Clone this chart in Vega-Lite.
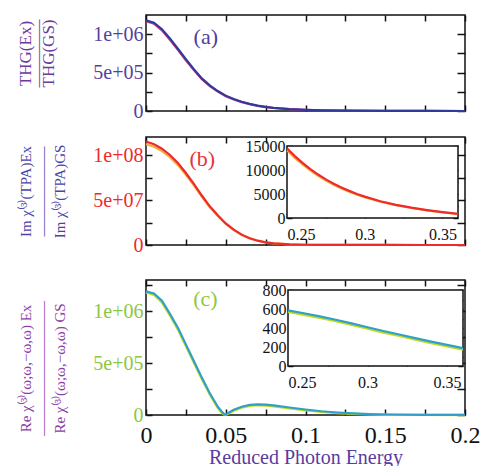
{
  "$schema": "https://vega.github.io/schema/vega-lite/v6.json",
  "background": "white",
  "padding": {"left": 16, "top": 13, "right": 5, "bottom": 0},
  "config": {
    "font": "Liberation Serif",
    "view": {"stroke": "#111", "strokeWidth": 1.5},
    "axis": {"grid": false, "domain": false, "tickColor": "#111", "tickWidth": 1.5, "labelOverlap": false, "labelBound": false, "zindex": 1, "labelFontWeight": "normal", "titleFontWeight": "normal"}
  },
  "datasets": {
    "a": [
      {"x": 0, "v": 1180000, "s": "A"}, {"x": 0.005, "v": 1150000, "s": "A"}, {"x": 0.01, "v": 1065000, "s": "A"}, {"x": 0.015, "v": 945000, "s": "A"}, {"x": 0.02, "v": 810000, "s": "A"}, {"x": 0.025, "v": 675000, "s": "A"}, {"x": 0.03, "v": 545000, "s": "A"}, {"x": 0.035, "v": 425000, "s": "A"}, {"x": 0.04, "v": 335000, "s": "A"}, {"x": 0.045, "v": 260000, "s": "A"}, {"x": 0.05, "v": 200000, "s": "A"}, {"x": 0.055, "v": 155000, "s": "A"}, {"x": 0.06, "v": 120000, "s": "A"}, {"x": 0.065, "v": 92000, "s": "A"}, {"x": 0.07, "v": 70000, "s": "A"}, {"x": 0.075, "v": 53000, "s": "A"}, {"x": 0.08, "v": 41000, "s": "A"}, {"x": 0.09, "v": 25000, "s": "A"}, {"x": 0.1, "v": 15000, "s": "A"}, {"x": 0.11, "v": 9000, "s": "A"}, {"x": 0.125, "v": 4000, "s": "A"}, {"x": 0.15, "v": 1500, "s": "A"}, {"x": 0.175, "v": 500, "s": "A"}, {"x": 0.2, "v": 200, "s": "A"},
      {"x": 0, "v": 1170000, "s": "B"}, {"x": 0.005, "v": 1138000, "s": "B"}, {"x": 0.01, "v": 1050000, "s": "B"}, {"x": 0.015, "v": 928000, "s": "B"}, {"x": 0.02, "v": 795000, "s": "B"}, {"x": 0.025, "v": 660000, "s": "B"}, {"x": 0.03, "v": 532000, "s": "B"}, {"x": 0.035, "v": 413000, "s": "B"}, {"x": 0.04, "v": 325000, "s": "B"}, {"x": 0.045, "v": 252000, "s": "B"}, {"x": 0.05, "v": 193000, "s": "B"}, {"x": 0.055, "v": 149000, "s": "B"}, {"x": 0.06, "v": 115000, "s": "B"}, {"x": 0.065, "v": 88000, "s": "B"}, {"x": 0.07, "v": 67000, "s": "B"}, {"x": 0.075, "v": 51000, "s": "B"}, {"x": 0.08, "v": 39000, "s": "B"}, {"x": 0.09, "v": 24000, "s": "B"}, {"x": 0.1, "v": 14000, "s": "B"}, {"x": 0.11, "v": 8500, "s": "B"}, {"x": 0.125, "v": 3800, "s": "B"}, {"x": 0.15, "v": 1400, "s": "B"}, {"x": 0.175, "v": 500, "s": "B"}, {"x": 0.2, "v": 200, "s": "B"}
    ],
    "b": [
      {"x": 0, "v": 115000000, "s": "A"}, {"x": 0.005, "v": 112000000, "s": "A"}, {"x": 0.01, "v": 107000000, "s": "A"}, {"x": 0.015, "v": 100000000, "s": "A"}, {"x": 0.02, "v": 91000000, "s": "A"}, {"x": 0.025, "v": 80000000, "s": "A"}, {"x": 0.03, "v": 68000000, "s": "A"}, {"x": 0.035, "v": 55000000, "s": "A"}, {"x": 0.04, "v": 43000000, "s": "A"}, {"x": 0.045, "v": 33000000, "s": "A"}, {"x": 0.05, "v": 24000000, "s": "A"}, {"x": 0.055, "v": 17000000, "s": "A"}, {"x": 0.06, "v": 11500000, "s": "A"}, {"x": 0.065, "v": 7500000, "s": "A"}, {"x": 0.07, "v": 4800000, "s": "A"}, {"x": 0.075, "v": 3000000, "s": "A"}, {"x": 0.08, "v": 1800000, "s": "A"}, {"x": 0.09, "v": 700000, "s": "A"}, {"x": 0.1, "v": 300000, "s": "A"}, {"x": 0.11, "v": 150000, "s": "A"}, {"x": 0.125, "v": 70000, "s": "A"}, {"x": 0.15, "v": 30000, "s": "A"}, {"x": 0.175, "v": 15000, "s": "A"}, {"x": 0.2, "v": 10000, "s": "A"},
      {"x": 0, "v": 112100000, "s": "B"}, {"x": 0.005, "v": 109200000, "s": "B"}, {"x": 0.01, "v": 104300000, "s": "B"}, {"x": 0.015, "v": 97500000, "s": "B"}, {"x": 0.02, "v": 88700000, "s": "B"}, {"x": 0.025, "v": 78000000, "s": "B"}, {"x": 0.03, "v": 66300000, "s": "B"}, {"x": 0.035, "v": 53600000, "s": "B"}, {"x": 0.04, "v": 41900000, "s": "B"}, {"x": 0.045, "v": 32200000, "s": "B"}, {"x": 0.05, "v": 23400000, "s": "B"}, {"x": 0.055, "v": 16600000, "s": "B"}, {"x": 0.06, "v": 11200000, "s": "B"}, {"x": 0.065, "v": 7300000, "s": "B"}, {"x": 0.07, "v": 4700000, "s": "B"}, {"x": 0.075, "v": 2900000, "s": "B"}, {"x": 0.08, "v": 1750000, "s": "B"}, {"x": 0.09, "v": 680000, "s": "B"}, {"x": 0.1, "v": 290000, "s": "B"}, {"x": 0.11, "v": 145000, "s": "B"}, {"x": 0.125, "v": 68000, "s": "B"}, {"x": 0.15, "v": 29000, "s": "B"}, {"x": 0.175, "v": 15000, "s": "B"}, {"x": 0.2, "v": 10000, "s": "B"}
    ],
    "bi": [
      {"x": 0.25, "v": 14500, "s": "A"}, {"x": 0.255, "v": 12900, "s": "A"}, {"x": 0.26, "v": 11500, "s": "A"}, {"x": 0.265, "v": 10200, "s": "A"}, {"x": 0.27, "v": 9050, "s": "A"}, {"x": 0.275, "v": 8050, "s": "A"}, {"x": 0.28, "v": 7150, "s": "A"}, {"x": 0.285, "v": 6350, "s": "A"}, {"x": 0.29, "v": 5650, "s": "A"}, {"x": 0.295, "v": 5000, "s": "A"}, {"x": 0.3, "v": 4450, "s": "A"}, {"x": 0.31, "v": 3500, "s": "A"}, {"x": 0.32, "v": 2750, "s": "A"}, {"x": 0.33, "v": 2150, "s": "A"}, {"x": 0.34, "v": 1650, "s": "A"}, {"x": 0.35, "v": 1220, "s": "A"}, {"x": 0.36, "v": 860, "s": "A"},
      {"x": 0.25, "v": 14100, "s": "B"}, {"x": 0.255, "v": 12500, "s": "B"}, {"x": 0.26, "v": 11150, "s": "B"}, {"x": 0.265, "v": 9900, "s": "B"}, {"x": 0.27, "v": 8780, "s": "B"}, {"x": 0.275, "v": 7800, "s": "B"}, {"x": 0.28, "v": 6930, "s": "B"}, {"x": 0.285, "v": 6160, "s": "B"}, {"x": 0.29, "v": 5480, "s": "B"}, {"x": 0.295, "v": 4850, "s": "B"}, {"x": 0.3, "v": 4320, "s": "B"}, {"x": 0.31, "v": 3400, "s": "B"}, {"x": 0.32, "v": 2670, "s": "B"}, {"x": 0.33, "v": 2090, "s": "B"}, {"x": 0.34, "v": 1600, "s": "B"}, {"x": 0.35, "v": 1180, "s": "B"}, {"x": 0.36, "v": 830, "s": "B"}
    ],
    "c": [
      {"x": 0, "v": 1190000, "s": "A"}, {"x": 0.005, "v": 1170000, "s": "A"}, {"x": 0.01, "v": 1100000, "s": "A"}, {"x": 0.015, "v": 975000, "s": "A"}, {"x": 0.02, "v": 840000, "s": "A"}, {"x": 0.025, "v": 680000, "s": "A"}, {"x": 0.03, "v": 520000, "s": "A"}, {"x": 0.035, "v": 360000, "s": "A"}, {"x": 0.04, "v": 210000, "s": "A"}, {"x": 0.045, "v": 80000, "s": "A"}, {"x": 0.048, "v": 22000, "s": "A"}, {"x": 0.0495, "v": 3000, "s": "A"}, {"x": 0.051, "v": 15000, "s": "A"}, {"x": 0.055, "v": 50000, "s": "A"}, {"x": 0.06, "v": 80000, "s": "A"}, {"x": 0.065, "v": 97000, "s": "A"}, {"x": 0.07, "v": 103000, "s": "A"}, {"x": 0.075, "v": 100000, "s": "A"}, {"x": 0.08, "v": 92000, "s": "A"}, {"x": 0.09, "v": 72000, "s": "A"}, {"x": 0.1, "v": 53000, "s": "A"}, {"x": 0.11, "v": 36000, "s": "A"}, {"x": 0.12, "v": 24000, "s": "A"}, {"x": 0.13, "v": 15000, "s": "A"}, {"x": 0.14, "v": 9000, "s": "A"}, {"x": 0.15, "v": 5000, "s": "A"}, {"x": 0.175, "v": 2000, "s": "A"}, {"x": 0.2, "v": 1000, "s": "A"},
      {"x": 0, "v": 1180000, "s": "B"}, {"x": 0.005, "v": 1158000, "s": "B"}, {"x": 0.01, "v": 1085000, "s": "B"}, {"x": 0.015, "v": 960000, "s": "B"}, {"x": 0.02, "v": 825000, "s": "B"}, {"x": 0.025, "v": 665000, "s": "B"}, {"x": 0.03, "v": 505000, "s": "B"}, {"x": 0.035, "v": 346000, "s": "B"}, {"x": 0.04, "v": 198000, "s": "B"}, {"x": 0.045, "v": 70000, "s": "B"}, {"x": 0.048, "v": 14000, "s": "B"}, {"x": 0.0495, "v": 0, "s": "B"}, {"x": 0.051, "v": 8000, "s": "B"}, {"x": 0.055, "v": 42000, "s": "B"}, {"x": 0.06, "v": 72000, "s": "B"}, {"x": 0.065, "v": 89000, "s": "B"}, {"x": 0.07, "v": 95000, "s": "B"}, {"x": 0.075, "v": 92000, "s": "B"}, {"x": 0.08, "v": 84000, "s": "B"}, {"x": 0.09, "v": 64000, "s": "B"}, {"x": 0.1, "v": 46000, "s": "B"}, {"x": 0.11, "v": 30000, "s": "B"}, {"x": 0.12, "v": 19000, "s": "B"}, {"x": 0.13, "v": 11000, "s": "B"}, {"x": 0.14, "v": 6000, "s": "B"}, {"x": 0.15, "v": 3000, "s": "B"}, {"x": 0.175, "v": 1000, "s": "B"}, {"x": 0.2, "v": 500, "s": "B"}
    ],
    "ci": [
      {"x": 0.25, "v": 585, "s": "A"}, {"x": 0.26, "v": 555, "s": "A"}, {"x": 0.27, "v": 522, "s": "A"}, {"x": 0.28, "v": 487, "s": "A"}, {"x": 0.29, "v": 448, "s": "A"}, {"x": 0.3, "v": 408, "s": "A"}, {"x": 0.31, "v": 368, "s": "A"}, {"x": 0.32, "v": 332, "s": "A"}, {"x": 0.33, "v": 293, "s": "A"}, {"x": 0.34, "v": 257, "s": "A"}, {"x": 0.35, "v": 222, "s": "A"}, {"x": 0.36, "v": 188, "s": "A"},
      {"x": 0.25, "v": 570, "s": "B"}, {"x": 0.26, "v": 540, "s": "B"}, {"x": 0.27, "v": 507, "s": "B"}, {"x": 0.28, "v": 472, "s": "B"}, {"x": 0.29, "v": 433, "s": "B"}, {"x": 0.3, "v": 393, "s": "B"}, {"x": 0.31, "v": 353, "s": "B"}, {"x": 0.32, "v": 317, "s": "B"}, {"x": 0.33, "v": 278, "s": "B"}, {"x": 0.34, "v": 242, "s": "B"}, {"x": 0.35, "v": 207, "s": "B"}, {"x": 0.36, "v": 173, "s": "B"}
    ]
  },
  "spacing": 13,
  "vconcat": [
    {
      "width": 319, "height": 96,
      "data": {"name": "a"},
      "layer": [
        {
          "transform": [{"filter": "datum.s == 'B'"}],
          "mark": {"type": "line", "color": "#d0357a", "strokeWidth": 2.2},
          "encoding": {
            "x": {"field": "x", "type": "quantitative", "scale": {"domain": [0, 0.2], "nice": false},
              "axis": {"orient": "bottom", "values": [0, 0.025, 0.05, 0.075, 0.1, 0.125, 0.15, 0.175, 0.2], "labels": false, "tickSize": -6, "title": null}},
            "y": {"field": "v", "type": "quantitative", "scale": {"domain": [0, 1250000], "nice": false},
              "axis": {"orient": "left", "values": [0, 250000, 500000, 750000, 1000000], "tickSize": -6, "labelPadding": 9, "labelFontSize": 20, "labelColor": "#563f9f",
                "labelExpr": "datum.value == 0 ? '0' : datum.value == 500000 ? '5e+05' : datum.value == 1000000 ? '1e+06' : ''",
                "title": ["THG(Ex)", "————", "THG(GS)"], "titleFontSize": 17, "titleLineHeight": 11.5, "titleColor": "#6b3a9e", "titlePadding": 35, "titleY": 38}}
          }
        },
        {
          "transform": [{"filter": "datum.s == 'A'"}],
          "mark": {"type": "line", "color": "#2f3a9e", "strokeWidth": 2.2},
          "encoding": {
            "x": {"field": "x", "type": "quantitative", "scale": {"domain": [0, 0.2], "nice": false},
              "axis": {"orient": "top", "values": [0, 0.025, 0.05, 0.075, 0.1, 0.125, 0.15, 0.175, 0.2], "labels": false, "tickSize": -6, "title": null}},
            "y": {"field": "v", "type": "quantitative", "scale": {"domain": [0, 1250000], "nice": false},
              "axis": {"orient": "right", "values": [0, 250000, 500000, 750000, 1000000], "labels": false, "tickSize": -8, "title": null}}
          }
        },
        {
          "data": {"values": [{}]},
          "mark": {"type": "text", "text": "(a)", "fontSize": 22, "color": "#4b3e9e"},
          "encoding": {
            "x": {"datum": 0.0375, "type": "quantitative", "scale": {"domain": [0, 0.2], "nice": false}, "axis": null},
            "y": {"datum": 970000, "type": "quantitative", "scale": {"domain": [0, 1250000], "nice": false}, "axis": null}
          }
        }
      ]
    },
    {
      "width": 319, "height": 108,
      "resolve": {"scale": {"x": "independent", "y": "independent"}},
      "layer": [
        {
          "data": {"name": "b"},
          "layer": [
            {
              "transform": [{"filter": "datum.s == 'B'"}],
              "mark": {"type": "line", "color": "#f0b040", "strokeWidth": 2.2},
              "encoding": {
                "x": {"field": "x", "type": "quantitative", "scale": {"domain": [0, 0.2], "nice": false},
                  "axis": {"orient": "bottom", "values": [0, 0.025, 0.05, 0.075, 0.1, 0.125, 0.15, 0.175, 0.2], "labels": false, "tickSize": -6, "title": null}},
                "y": {"field": "v", "type": "quantitative", "scale": {"domain": [0, 120000000], "nice": false},
                  "axis": {"orient": "left", "values": [0, 25000000, 50000000, 75000000, 100000000], "tickSize": -6, "labelPadding": 9, "labelFontSize": 20, "labelColor": "#ee2b2b",
                    "labelExpr": "datum.value == 0 ? '0' : datum.value == 50000000 ? '5e+07' : datum.value == 100000000 ? '1e+08' : ''",
                    "title": ["Im χ⁽³⁾(TPA)Ex", "——————", "Im χ⁽³⁾(TPA)GS"], "titleFontSize": 15, "titleLineHeight": 17, "titleColor": "#4a44a8", "titlePadding": 25}}
              }
            },
            {
              "transform": [{"filter": "datum.s == 'A'"}],
              "mark": {"type": "line", "color": "#ee2a2a", "strokeWidth": 2.2},
              "encoding": {
                "x": {"field": "x", "type": "quantitative", "scale": {"domain": [0, 0.2], "nice": false},
                  "axis": {"orient": "top", "values": [0, 0.025, 0.05, 0.075, 0.1, 0.125, 0.15, 0.175, 0.2], "labels": false, "tickSize": -6, "title": null}},
                "y": {"field": "v", "type": "quantitative", "scale": {"domain": [0, 120000000], "nice": false},
                  "axis": {"orient": "right", "values": [0, 25000000, 50000000, 75000000, 100000000], "labels": false, "tickSize": -8, "title": null}}
              }
            },
            {
              "data": {"values": [{}]},
              "mark": {"type": "text", "text": "(b)", "fontSize": 22, "color": "#e8333a"},
              "encoding": {
                "x": {"datum": 0.0353, "type": "quantitative", "scale": {"domain": [0, 0.2], "nice": false}, "axis": null},
                "y": {"datum": 96000000, "type": "quantitative", "scale": {"domain": [0, 120000000], "nice": false}, "axis": null}
              }
            }
          ]
        },
        {
          "layer": [
            {
              "data": {"values": [{}]},
              "mark": {"type": "rect", "fill": "white", "stroke": "#111", "strokeWidth": 1.5},
              "encoding": {
                "x": {"datum": 0.25, "type": "quantitative", "scale": {"domain": [0.25, 0.36], "nice": false, "range": [141, 312]},
                  "axis": {"orient": "top", "offset": -9, "values": [0.25, 0.275, 0.3, 0.325, 0.35], "labels": false, "tickSize": -5, "title": null}},
                "x2": {"datum": 0.36},
                "y": {"datum": 0, "type": "quantitative", "scale": {"domain": [0, 15000], "nice": false, "range": [81, 9]},
                  "axis": {"orient": "right", "offset": -7, "values": [0, 2500, 5000, 7500, 10000, 12500, 15000], "labels": false, "tickSize": -5, "title": null}},
                "y2": {"datum": 15000}
              }
            },
            {
              "data": {"name": "bi"},
              "transform": [{"filter": "datum.s == 'B'"}],
              "mark": {"type": "line", "color": "#f0b040", "strokeWidth": 2.2},
              "encoding": {
                "x": {"field": "x", "type": "quantitative", "scale": {"domain": [0.25, 0.36], "nice": false, "range": [141, 312]},
                  "axis": {"orient": "bottom", "offset": -27, "values": [0.25, 0.275, 0.3, 0.325, 0.35], "tickSize": -5, "labelPadding": 13, "labelFontSize": 16, "labelColor": "#111",
                    "labelExpr": "round(datum.value*1000) % 50 == 0 ? format(datum.value, '~g') : ''", "title": null}},
                "y": {"field": "v", "type": "quantitative", "scale": {"domain": [0, 15000], "nice": false, "range": [81, 9]},
                  "axis": {"orient": "left", "offset": -141, "values": [0, 2500, 5000, 7500, 10000, 12500, 15000], "tickSize": -5, "labelPadding": 7, "labelFontSize": 16, "labelColor": "#111",
                    "labelExpr": "datum.value % 5000 == 0 ? format(datum.value, 'd') : ''", "title": null}}
              }
            },
            {
              "data": {"name": "bi"},
              "transform": [{"filter": "datum.s == 'A'"}],
              "mark": {"type": "line", "color": "#ee2a2a", "strokeWidth": 2.2},
              "encoding": {
                "x": {"field": "x", "type": "quantitative", "scale": {"domain": [0.25, 0.36], "nice": false, "range": [141, 312]}, "axis": null},
                "y": {"field": "v", "type": "quantitative", "scale": {"domain": [0, 15000], "nice": false, "range": [81, 9]}, "axis": null}
              }
            }
          ]
        }
      ]
    },
    {
      "width": 319, "height": 135,
      "resolve": {"scale": {"x": "independent", "y": "independent"}},
      "layer": [
        {
          "data": {"name": "c"},
          "layer": [
            {
              "transform": [{"filter": "datum.s == 'B'"}],
              "mark": {"type": "line", "color": "#c2da1e", "strokeWidth": 2.4},
              "encoding": {
                "x": {"field": "x", "type": "quantitative", "scale": {"domain": [0, 0.2], "nice": false},
                  "axis": {"orient": "bottom", "values": [0, 0.025, 0.05, 0.075, 0.1, 0.125, 0.15, 0.175, 0.2], "tickSize": -6, "labelPadding": 14, "labelFontSize": 24, "labelColor": "#111", "labelFlush": false,
                    "labelExpr": "round(datum.value*1000) % 50 == 0 ? format(datum.value, '~g') : ''",
                    "title": "Reduced Photon Energy", "titleFontSize": 20, "titleColor": "#5a3ca0", "titlePadding": 0}},
                "y": {"field": "v", "type": "quantitative", "scale": {"domain": [0, 1300000], "nice": false},
                  "axis": {"orient": "left", "values": [0, 250000, 500000, 750000, 1000000, 1250000], "tickSize": -6, "labelPadding": 9, "labelFontSize": 20, "labelColor": "#8dc63f",
                    "labelExpr": "datum.value == 0 ? '0' : datum.value == 500000 ? '5e+05' : datum.value == 1000000 ? '1e+06' : ''",
                    "title": ["Re χ⁽³⁾(ω;ω,−ω,ω) Ex", "—————————", "Re χ⁽³⁾(ω;ω,−ω,ω) GS"], "titleFontSize": 15, "titleLineHeight": 17, "titleColor": "#8a3ea6", "titlePadding": 25, "titleY": 88}}
              }
            },
            {
              "transform": [{"filter": "datum.s == 'A'"}],
              "mark": {"type": "line", "color": "#2fa0c8", "strokeWidth": 2.2},
              "encoding": {
                "x": {"field": "x", "type": "quantitative", "scale": {"domain": [0, 0.2], "nice": false},
                  "axis": {"orient": "top", "values": [0, 0.025, 0.05, 0.075, 0.1, 0.125, 0.15, 0.175, 0.2], "tickSize": -6, "labelPadding": 7, "labelFontSize": 9, "labelColor": "#ffffff", "labelFlush": false, "labelExpr": "'0'", "title": null}},
                "y": {"field": "v", "type": "quantitative", "scale": {"domain": [0, 1300000], "nice": false},
                  "axis": {"orient": "right", "values": [0, 250000, 500000, 750000, 1000000, 1250000], "labels": false, "tickSize": -8, "title": null}}
              }
            },
            {
              "data": {"values": [{}]},
              "mark": {"type": "text", "text": "(c)", "fontSize": 22, "color": "#92c83e"},
              "encoding": {
                "x": {"datum": 0.0372, "type": "quantitative", "scale": {"domain": [0, 0.2], "nice": false}, "axis": null},
                "y": {"datum": 1120000, "type": "quantitative", "scale": {"domain": [0, 1300000], "nice": false}, "axis": null}
              }
            }
          ]
        },
        {
          "layer": [
            {
              "data": {"values": [{}]},
              "mark": {"type": "rect", "fill": "white", "stroke": "#111", "strokeWidth": 1.5},
              "encoding": {
                "x": {"datum": 0.25, "type": "quantitative", "scale": {"domain": [0.25, 0.36], "nice": false, "range": [142, 317]},
                  "axis": {"orient": "top", "offset": -10, "values": [0.25, 0.275, 0.3, 0.325, 0.35], "labels": false, "tickSize": -5, "title": null}},
                "x2": {"datum": 0.36},
                "y": {"datum": 0, "type": "quantitative", "scale": {"domain": [0, 800], "nice": false, "range": [86, 10]},
                  "axis": {"orient": "right", "offset": -2, "values": [0, 100, 200, 300, 400, 500, 600, 700, 800], "labels": false, "tickSize": -5, "title": null}},
                "y2": {"datum": 800}
              }
            },
            {
              "data": {"name": "ci"},
              "transform": [{"filter": "datum.s == 'B'"}],
              "mark": {"type": "line", "color": "#c2da1e", "strokeWidth": 2.4},
              "encoding": {
                "x": {"field": "x", "type": "quantitative", "scale": {"domain": [0.25, 0.36], "nice": false, "range": [142, 317]},
                  "axis": {"orient": "bottom", "offset": -49, "values": [0.25, 0.275, 0.3, 0.325, 0.35], "tickSize": -5, "labelPadding": 13, "labelFontSize": 16, "labelColor": "#111",
                    "labelExpr": "round(datum.value*1000) % 50 == 0 ? format(datum.value, '~g') : ''", "title": null}},
                "y": {"field": "v", "type": "quantitative", "scale": {"domain": [0, 800], "nice": false, "range": [86, 10]},
                  "axis": {"orient": "left", "offset": -142, "values": [0, 100, 200, 300, 400, 500, 600, 700, 800], "tickSize": -5, "labelPadding": 7, "labelFontSize": 16, "labelColor": "#111",
                    "labelExpr": "datum.value % 200 == 0 ? format(datum.value, 'd') : ''", "title": null}}
              }
            },
            {
              "data": {"name": "ci"},
              "transform": [{"filter": "datum.s == 'A'"}],
              "mark": {"type": "line", "color": "#2fa0c8", "strokeWidth": 2.2},
              "encoding": {
                "x": {"field": "x", "type": "quantitative", "scale": {"domain": [0.25, 0.36], "nice": false, "range": [142, 317]}, "axis": null},
                "y": {"field": "v", "type": "quantitative", "scale": {"domain": [0, 800], "nice": false, "range": [86, 10]}, "axis": null}
              }
            }
          ]
        }
      ]
    }
  ]
}
